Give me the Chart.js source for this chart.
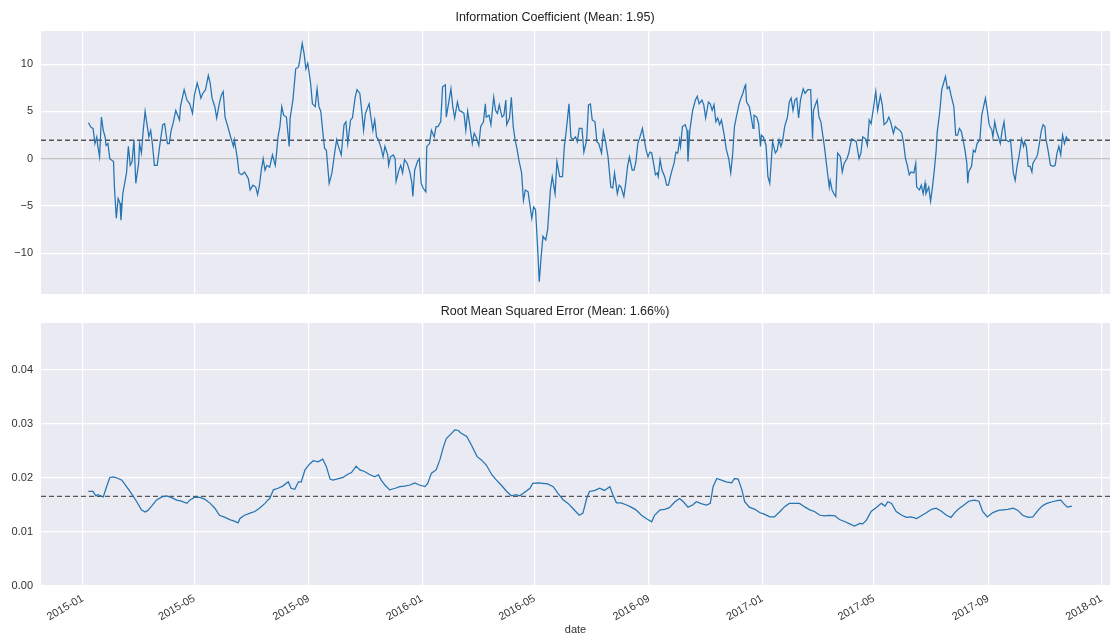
<!DOCTYPE html>
<html>
<head>
<meta charset="utf-8">
<script src="https://cdn.jsdelivr.net/npm/chart.js@4.4.1/dist/chart.umd.min.js"></script>
<style>
  html, body { margin: 0; padding: 0; background: #fff; }
  #wrap { position: relative; width: 1110px; height: 637px; overflow: hidden; }
  #top { position: absolute; left: 0; top: 0; }
  #bottom { position: absolute; left: 0; top: 300px; }
</style>
</head>
<body>
<div id="wrap">
  <canvas id="top" width="1110" height="300"></canvas>
  <canvas id="bottom" width="1110" height="337"></canvas>
</div>
<script>
// x values are days since 2015-01-01
const xTickLabels = ["2015-01", "2015-05", "2015-09", "2016-01", "2016-05",
  "2016-09", "2017-01", "2017-05", "2017-09", "2018-01"];

const icTicks = [-10, -5, 0, 5, 10];
const rmseTicks = [0, 0.01, 0.02, 0.03, 0.04];

const icMean = 1.95;
const rmseMean = 0.0166;

const icDays = [
  6,9,11,13,15,16,18,20,22,24,
  25,27,29,33,34,36,38,40,41,43,
  47,49,51,53,55,57,60,61,63,65,
  67,70,71,73,75,77,80,83,86,88,
  91,93,95,97,100,102,104,105,109,112,
  115,118,120,123,125,127,129,132,135,137,
  139,142,144,147,149,151,153,156,159,162,
  163,166,168,171,174,178,180,183,186,188,
  190,192,194,196,198,201,204,207,208,210,
  212,214,216,219,222,223,226,229,232,233,
  236,238,240,242,245,247,250,252,254,256,
  258,260,262,265,
  268,270,273,275,278,281,283,285,288,290,
  293,295,298,300,302,304,308,310,312,314,
  316,318,321,323,325,328,329,331,334,336,
  337,340,342,344,346,349,352,354,355,357,
  360,362,364,366,369,370,373,375,378,380,
  382,385,387,390,391,394,396,398,400,403,
  405,407,410,412,414,416,419,421,423,426,
  428,431,433,434,437,439,442,444,446,448,
  451,453,455,456,459,461,463,465,467,469,
  472,474,476,479,481,483,485,487,489,491,
  493,495,498,500,503,505,508,510,513,516,
  518,520,523,525,527,530,532,534,
  537,539,542,544,546,548,551,553,555,558,
  560,562,565,568,570,572,575,577,579,582,
  584,586,588,591,593,595,597,600,602,604,
  606,608,610,612,614,616,618,619,621,623,
  626,628,630,633,636,638,640,642,643,645,
  648,650,651,653,656,659,661,663,666,668,
  670,673,675,677,679,681,683,685,687,690,
  692,695,697,699,701,703,706,708,710,712,
  713,714,717,719,721,722,725,727,729,730,
  732,735,737,739,742,745,747,749,751,753,
  755,758,760,762,764,766,768,770,772,775,
  777,780,783,785,786,788,790,792,794,796,
  798,801,803,
  804,806,808,810,812,815,817,819,822,824,
  827,829,832,835,837,839,842,844,846,848,
  850,853,855,858,860,862,865,867,869,872,
  874,876,879,881,883,885,887,889,891,894,
  896,897,900,902,904,906,907,910,912,914,
  916,918,919,922,924,926,928,930,932,934,
  937,939,941,943,945,947,949,951,952,953,
  956,958,960,962,965,967,969,971,973,975,
  978,979,981,983,985,987,989,991,993,996,
  998,1001,1003,1005,1007,1010,1012,1013,1015,1017,
  1019,1021,1022,1025,1027,1029,1031,1033,1035,1036,
  1038,1041,1044,1046,1048,1050,1052,1054,1056,1058,
  1059,1061
];

const icValues = [
  3.8,3.3,3.2,1.6,2.3,1.4,0.2,4.4,3.0,2.3,
  1.4,1.6,0.0,-0.3,-3.0,-6.3,-4.2,-4.7,-6.5,-3.7,
  -1.5,1.3,-0.7,-0.3,2.0,-2.6,-0.5,1.6,0.6,3.0,
  5.0,3.0,2.3,3.0,1.4,-0.7,-0.7,1.6,3.6,3.7,
  1.6,1.6,3.0,3.7,5.1,4.6,4.1,5.5,7.3,6.2,
  5.8,4.8,6.7,8.0,7.3,6.4,6.9,7.3,8.8,8.0,
  6.4,5.5,4.3,5.9,6.7,7.1,4.4,3.4,2.3,1.3,
  2.0,0.2,-1.5,-1.7,-1.4,-2.1,-3.3,-2.8,-3.0,-3.8,
  -2.8,-1.2,0.0,-1.2,-0.7,-0.9,0.4,-0.7,0.2,2.3,
  3.4,5.5,4.6,4.4,1.3,4.3,6.2,9.5,9.7,10.2,
  12.2,11.1,9.5,10.1,8.0,5.8,5.5,7.4,5.5,5.0,
  3.0,1.1,0.9,-2.6,
  -1.5,0.0,2.0,1.3,0.4,3.6,3.9,1.6,4.1,4.3,
  6.5,7.3,6.9,5.1,3.0,4.8,5.8,4.3,3.0,4.1,
  2.3,2.0,1.1,0.2,1.3,0.4,-0.7,0.2,0.4,0.0,
  -2.4,-1.2,-0.7,-1.5,-0.1,-0.5,-1.5,-2.6,-4.0,-1.2,
  -0.3,0.0,-2.6,-3.1,-3.5,1.3,1.6,3.0,2.3,3.4,
  3.4,3.9,7.6,7.8,4.4,6.2,7.4,5.5,4.3,6.0,
  5.1,5.0,4.8,3.0,5.0,3.7,1.6,2.7,2.3,1.4,
  3.4,3.9,5.8,4.4,4.6,3.6,6.5,5.1,4.8,5.7,
  4.4,4.6,6.2,3.6,4.3,6.5,3.4,2.0,1.1,-0.1,
  -1.5,-4.4,-3.3,-3.5,-4.9,-6.3,-5.1,-5.4,-8.9,-13.0,
  -10.4,-8.2,-8.6,-7.5,-3.3,-1.9,-3.7,-0.3,-1.9,-1.9,
  1.3,2.9,5.8,2.3,2.0,2.3,1.8,3.2,
  3.2,0.7,2.0,5.7,5.8,4.1,3.9,1.8,1.6,0.6,
  2.9,2.0,0.2,-3.0,-3.1,-1.5,-3.7,-2.8,-3.0,-4.0,
  -2.6,-0.8,0.2,-1.2,-1.2,-0.3,1.6,2.5,3.2,2.0,
  0.9,0.2,0.7,0.6,-0.5,-1.7,-1.5,-1.9,-0.1,-1.2,
  -1.9,-2.8,-2.8,-1.5,-0.5,0.7,0.6,2.0,1.3,3.4,
  3.6,3.0,-0.3,3.0,5.1,6.2,6.6,5.8,6.2,5.7,
  4.3,6.0,5.8,5.1,5.7,3.9,4.3,3.6,4.1,2.5,
  1.1,-0.1,-1.5,0.4,3.4,4.4,5.8,6.4,6.9,7.6,
  7.8,6.0,5.5,4.4,3.2,4.6,4.4,3.7,1.3,2.5,
  2.3,1.4,-1.9,-2.6,1.8,0.6,0.9,2.0,1.3,2.0,
  3.4,4.4,6.0,6.4,5.1,6.2,6.4,4.3,6.2,7.4,
  6.9,7.3,7.3,2.1,5.1,5.7,6.2,4.4,3.9,2.5,
  1.1,-1.4,-3.0,
  -2.3,-3.3,-3.7,-4.0,0.6,0.2,-1.4,-0.5,0.0,0.6,
  2.1,2.0,1.8,0.0,0.6,2.3,2.1,1.4,4.1,3.7,
  5.0,7.1,5.1,6.7,5.7,3.6,3.9,4.4,3.9,2.7,
  3.4,3.2,3.0,2.7,1.6,0.0,-0.7,-1.7,-1.4,-1.5,
  -0.5,-3.0,-3.3,-2.8,-3.7,-2.6,-3.7,-3.0,-4.5,-3.0,
  -1.2,0.9,2.7,5.1,7.3,8.0,8.7,7.4,7.6,6.7,
  5.5,2.5,2.5,3.2,2.9,2.0,0.9,-0.5,-2.6,-1.4,
  -0.8,0.9,0.7,1.6,2.0,4.6,5.5,6.4,5.1,3.6,
  3.0,2.3,3.9,2.9,2.3,1.6,3.0,3.9,2.0,1.8,
  2.0,-1.5,-2.3,-0.8,0.2,2.1,1.3,1.8,1.3,-0.8,
  -0.8,-1.4,-0.5,0.0,0.4,1.6,2.9,3.6,3.4,2.1,
  1.1,-0.7,-0.8,-0.7,0.6,1.3,0.4,2.5,1.6,2.3,
  2.1,2.0
];

const rmseDays = [
  6,11,14,16,22,25,29,33,38,42,
  47,52,58,63,67,70,74,79,85,90,
  95,101,106,112,115,120,126,131,137,142,
  147,153,158,163,167,169,174,180,185,190,
  196,199,201,205,210,215,221,224,228,232,
  235,239,244,248,253,258,262,266,269,275,
  280,285,289,294,298,303,309,314,318,321,
  325,330,336,341,346,352,357,362,368,371,
  375,380,384,388,391,397,400,404,407,413,
  418,424,429,434,440,445,450,456,461,466,
  470,475,481,484,490,495,500,506,511,517,
  522,527,534,
  538,542,545,551,556,561,567,570,574,579,
  585,590,595,601,606,612,615,621,626,631,
  637,642,646,651,656,660,666,671,675,678,
  682,687,692,698,701,705,709,712,717,723,
  728,733,739,744,750,755,760,766,771,777,
  782,787,793,798,803,809,814,820,825,830,
  836,839,843,848,854,859,863,866,870,875,
  881,886,891,897,902,907,913,918,924,929,
  934,938,943,948,953,959,964,968,973,979,
  985,990,995,1001,1006,1011,1017,1022,1028,1032,
  1037,1043,1048,1052,1055,1059,1064
];

const rmseValues = [
  0.0175,0.0175,0.0167,0.0169,0.0165,0.0181,0.0201,0.0202,0.0199,0.0196,
  0.0184,0.0172,0.0156,0.0141,0.0137,0.0140,0.0148,0.0159,0.0165,0.0167,
  0.0164,0.0159,0.0157,0.0153,0.0159,0.0164,0.0164,0.0161,0.0153,0.0144,
  0.0131,0.0127,0.0123,0.0120,0.0117,0.0125,0.0131,0.0135,0.0138,0.0144,
  0.0153,0.0159,0.0162,0.0178,0.0181,0.0185,0.0193,0.0181,0.0179,0.0193,
  0.0193,0.0215,0.0226,0.0232,0.0230,0.0235,0.0221,0.0198,0.0196,0.0199,
  0.0201,0.0207,0.0210,0.0222,0.0215,0.0212,0.0206,0.0202,0.0206,0.0196,
  0.0187,0.0178,0.0181,0.0184,0.0185,0.0187,0.0191,0.0187,0.0184,0.0190,
  0.0209,0.0215,0.0233,0.0258,0.0273,0.0283,0.0289,0.0288,0.0283,0.0277,
  0.0261,0.0240,0.0233,0.0224,0.0206,0.0196,0.0187,0.0175,0.0167,0.0169,
  0.0167,0.0173,0.0181,0.0190,0.0191,0.0190,0.0189,0.0184,0.0172,0.0159,
  0.0153,0.0144,0.0131,
  0.0135,0.0162,0.0175,0.0177,0.0181,0.0177,0.0184,0.0170,0.0154,0.0154,
  0.0150,0.0146,0.0141,0.0131,0.0125,0.0119,0.0131,0.0141,0.0142,0.0145,
  0.0156,0.0162,0.0156,0.0146,0.0150,0.0156,0.0152,0.0150,0.0153,0.0184,
  0.0199,0.0196,0.0193,0.0191,0.0199,0.0198,0.0178,0.0156,0.0146,0.0142,
  0.0136,0.0133,0.0128,0.0128,0.0138,0.0147,0.0153,0.0153,0.0153,0.0146,
  0.0141,0.0138,0.0131,0.0130,0.0131,0.0130,0.0123,0.0119,0.0115,0.0111,
  0.0116,0.0115,0.0122,0.0138,0.0146,0.0153,0.0148,0.0156,0.0153,0.0138,
  0.0131,0.0127,0.0128,0.0125,0.0130,0.0135,0.0142,0.0144,0.0138,0.0131,
  0.0127,0.0136,0.0144,0.0150,0.0157,0.0159,0.0157,0.0138,0.0128,0.0136,
  0.0140,0.0141,0.0142,0.0144,0.0140,0.0131,0.0127,0.0128,0.0141,0.0148,
  0.0153,0.0156,0.0158,0.0159,0.0153,0.0146,0.0148
];

Chart.defaults.font.family = "'Liberation Sans', Arial, sans-serif";
Chart.defaults.color = "#333";
Chart.defaults.animation = false;

const X_MIN = -45;
const X_MAX = 1105;
const LINE_BLUE = "#2474b2";

function dayOf(label) {
  let [y, m] = label.split("-").map(Number);
  return (Date.UTC(y, m - 1, 1) - Date.UTC(2015, 0, 1)) / 86400000;
}
const xTickDays = xTickLabels.map(dayOf);

const plotBackground = {
  id: "plotBackground",
  beforeDraw(chart) {
    let { ctx, chartArea: a } = chart;
    ctx.save();
    ctx.fillStyle = "#eaeaf2";
    ctx.fillRect(a.left, a.top, a.right - a.left, a.bottom - a.top);
    ctx.restore();
  },
};

function toPoints(days, values) {
  return days.map((d, i) => ({ x: d, y: values[i] }));
}

function hline(y, color, dash, width) {
  return {
    data: [{ x: X_MIN, y: y }, { x: X_MAX, y: y }],
    borderColor: color,
    borderDash: dash,
    borderWidth: width,
    pointRadius: 0,
  };
}

function xScale(showLabels) {
  return {
    type: "linear",
    min: X_MIN,
    max: X_MAX,
    afterBuildTicks: (s) => { s.ticks = xTickDays.map((v) => ({ value: v })); },
    grid: { color: "#ffffff", lineWidth: 1.2, drawTicks: false },
    border: { display: false },
    ticks: {
      display: showLabels,
      autoSkip: false,
      minRotation: 30,
      maxRotation: 30,
      padding: 6,
      font: { size: 11 },
      callback: (v, i) => xTickLabels[i],
    },
    title: {
      display: showLabels,
      text: "date",
      font: { size: 11 },
      padding: { top: 0, bottom: 0 },
    },
    afterFit: (s) => {
      s.height = showLabels ? 51 : 0;
      s.paddingLeft = 0;
      s.paddingRight = 0;
    },
  };
}

function yScale(min, max, ticks, fmt) {
  return {
    min: min,
    max: max,
    afterBuildTicks: (s) => { s.ticks = ticks.map((v) => ({ value: v })); },
    afterFit: (s) => {
      s.width = 41;
      s.paddingTop = 0;
      s.paddingBottom = 0;
    },
    grid: { color: "#ffffff", lineWidth: 1.2, drawTicks: false },
    border: { display: false },
    ticks: { padding: 8, font: { size: 11 }, callback: fmt },
  };
}

function titleOpts(text, top, bottom) {
  return {
    display: true,
    text: text,
    color: "#222",
    font: { size: 12.5, weight: "normal" },
    padding: { top: top, bottom: bottom },
  };
}

new Chart(document.querySelector("#top"), {
  type: "line",
  data: {
    datasets: [
      {
        data: toPoints(icDays, icValues),
        borderColor: LINE_BLUE,
        borderWidth: 1.25,
        pointRadius: 0,
      },
      hline(0, "rgba(0,0,0,0.3)", [], 1),
      hline(icMean, "#555", [5, 3], 1.3),
    ],
  },
  options: {
    responsive: false,
    layout: { padding: { left: 0, right: 0, top: 0, bottom: 6 } },
    scales: {
      x: xScale(false),
      y: yScale(-14.3, 13.5, icTicks, (v) => String(v).replace("-", "\u2212")),
    },
    plugins: {
      legend: { display: false },
      tooltip: { enabled: false },
      title: titleOpts("Information Coefficient (Mean: 1.95)", 10, 6),
    },
  },
  plugins: [plotBackground],
});

new Chart(document.querySelector("#bottom"), {
  type: "line",
  data: {
    datasets: [
      {
        data: toPoints(rmseDays, rmseValues),
        borderColor: LINE_BLUE,
        borderWidth: 1.25,
        pointRadius: 0,
      },
      hline(rmseMean, "#555", [5, 3], 1.3),
    ],
  },
  options: {
    responsive: false,
    layout: { padding: 0 },
    scales: {
      x: xScale(true),
      y: yScale(0, 0.0487, rmseTicks, (v) => v.toFixed(2)),
    },
    plugins: {
      legend: { display: false },
      tooltip: { enabled: false },
      title: titleOpts("Root Mean Squared Error (Mean: 1.66%)", 4, 4),
    },
  },
  plugins: [plotBackground],
});
</script>
</body>
</html>
